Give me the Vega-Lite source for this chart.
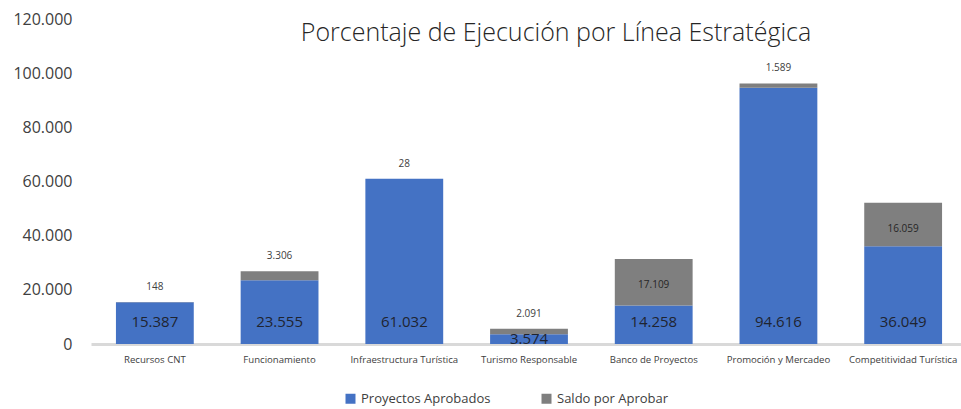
{
  "$schema": "https://vega.github.io/schema/vega-lite/v6.json",
  "width": 876,
  "height": 325,
  "autosize": {"type": "none"},
  "padding": {"left": 91, "top": 19, "right": 0, "bottom": 65},
  "title": {
    "text": "Porcentaje de Ejecución por Línea Estratégica",
    "fontSize": 25,
    "fontWeight": 300,
    "font": "Open Sans",
    "color": "#262626",
    "anchor": "middle",
    "offset": -35,
    "dx": 27
  },
  "data": {
    "values": [
      {"cat": "Recursos CNT", "serie": "Proyectos Aprobados", "valor": 15387},
      {"cat": "Recursos CNT", "serie": "Saldo por Aprobar", "valor": 148},
      {"cat": "Funcionamiento", "serie": "Proyectos Aprobados", "valor": 23555},
      {"cat": "Funcionamiento", "serie": "Saldo por Aprobar", "valor": 3306},
      {"cat": "Infraestructura Turística", "serie": "Proyectos Aprobados", "valor": 61032},
      {"cat": "Infraestructura Turística", "serie": "Saldo por Aprobar", "valor": 28},
      {"cat": "Turismo Responsable", "serie": "Proyectos Aprobados", "valor": 3574},
      {"cat": "Turismo Responsable", "serie": "Saldo por Aprobar", "valor": 2091},
      {"cat": "Banco de Proyectos", "serie": "Proyectos Aprobados", "valor": 14258},
      {"cat": "Banco de Proyectos", "serie": "Saldo por Aprobar", "valor": 17109},
      {"cat": "Promoción y Mercadeo", "serie": "Proyectos Aprobados", "valor": 94616},
      {"cat": "Promoción y Mercadeo", "serie": "Saldo por Aprobar", "valor": 1589},
      {"cat": "Competitividad Turística", "serie": "Proyectos Aprobados", "valor": 36049},
      {"cat": "Competitividad Turística", "serie": "Saldo por Aprobar", "valor": 16059}
    ]
  },
  "transform": [
    {"stack": "valor", "groupby": ["cat"], "sort": [{"field": "serie", "order": "ascending"}], "as": ["v0", "v1"]}
  ],
  "encoding": {
    "x": {
      "field": "cat",
      "type": "nominal",
      "sort": null,
      "scale": {"paddingInner": 0.376, "paddingOuter": 0.2},
      "axis": {
        "title": null,
        "labelAngle": 0,
        "labelFontSize": 9.6,
        "labelColor": "#404040",
        "labelFont": "Open Sans",
        "labelPadding": 10,
        "ticks": false,
        "domainColor": "#d9d9d9",
        "domainWidth": 3,
        "labelLimit": 200
      }
    }
  },
  "layer": [
    {
      "mark": {"type": "bar"},
      "encoding": {
        "y": {
          "field": "v1",
          "type": "quantitative",
          "scale": {"domain": [0, 120000]},
          "axis": {
            "title": null,
            "values": [0, 20000, 40000, 60000, 80000, 100000, 120000],
            "format": ",.0f",
            "grid": false,
            "domain": false,
            "ticks": false,
            "labelFontSize": 16,
            "labelColor": "#404040",
            "labelFont": "Open Sans",
            "labelPadding": 19
          }
        },
        "y2": {"field": "v0"},
        "color": {
          "field": "serie",
          "type": "nominal",
          "scale": {"domain": ["Proyectos Aprobados", "Saldo por Aprobar"], "range": ["#4472C4", "#7F7F7F"]},
          "legend": {
            "title": null,
            "orient": "none",
            "direction": "horizontal",
            "legendX": 253,
            "legendY": 373,
            "symbolType": "square",
            "symbolSize": 100,
            "symbolStrokeWidth": 0,
            "labelFontSize": 13,
            "labelColor": "#404040",
            "labelFont": "Open Sans",
            "columnPadding": 49,
            "labelOffset": 4
          }
        }
      }
    },
    {
      "transform": [{"filter": "datum.serie == 'Proyectos Aprobados' && datum.cat != 'Turismo Responsable'"}],
      "mark": {"type": "text", "dy": -22, "fontSize": 15, "font": "Open Sans", "color": "#1f2430", "baseline": "middle"},
      "encoding": {
        "y": {"field": "v0", "type": "quantitative"},
        "text": {"field": "valor", "type": "quantitative", "format": ",.0f"}
      }
    },
    {
      "transform": [{"filter": "datum.serie == 'Proyectos Aprobados' && datum.cat == 'Turismo Responsable'"}],
      "mark": {"type": "text", "dy": -5, "fontSize": 15, "font": "Open Sans", "color": "#1f2430", "baseline": "middle"},
      "encoding": {
        "y": {"field": "v0", "type": "quantitative"},
        "text": {"field": "valor", "type": "quantitative", "format": ",.0f"}
      }
    },
    {
      "transform": [{"filter": "datum.serie == 'Saldo por Aprobar' && datum.valor < 10000"}],
      "mark": {"type": "text", "dy": -15, "fontSize": 10, "font": "Open Sans", "color": "#404040", "baseline": "middle"},
      "encoding": {
        "y": {"field": "v1", "type": "quantitative"},
        "text": {"field": "valor", "type": "quantitative", "format": ",.0f"}
      }
    },
    {
      "transform": [{"filter": "datum.serie == 'Saldo por Aprobar' && datum.valor >= 10000"}],
      "mark": {"type": "text", "dy": 26, "fontSize": 10, "font": "Open Sans", "color": "#262626", "baseline": "middle"},
      "encoding": {
        "y": {"field": "v1", "type": "quantitative"},
        "text": {"field": "valor", "type": "quantitative", "format": ",.0f"}
      }
    }
  ],
  "config": {
    "view": {"stroke": null},
    "locale": {"number": {"decimal": ",", "thousands": ".", "grouping": [3], "currency": ["$", ""]}}
  }
}
